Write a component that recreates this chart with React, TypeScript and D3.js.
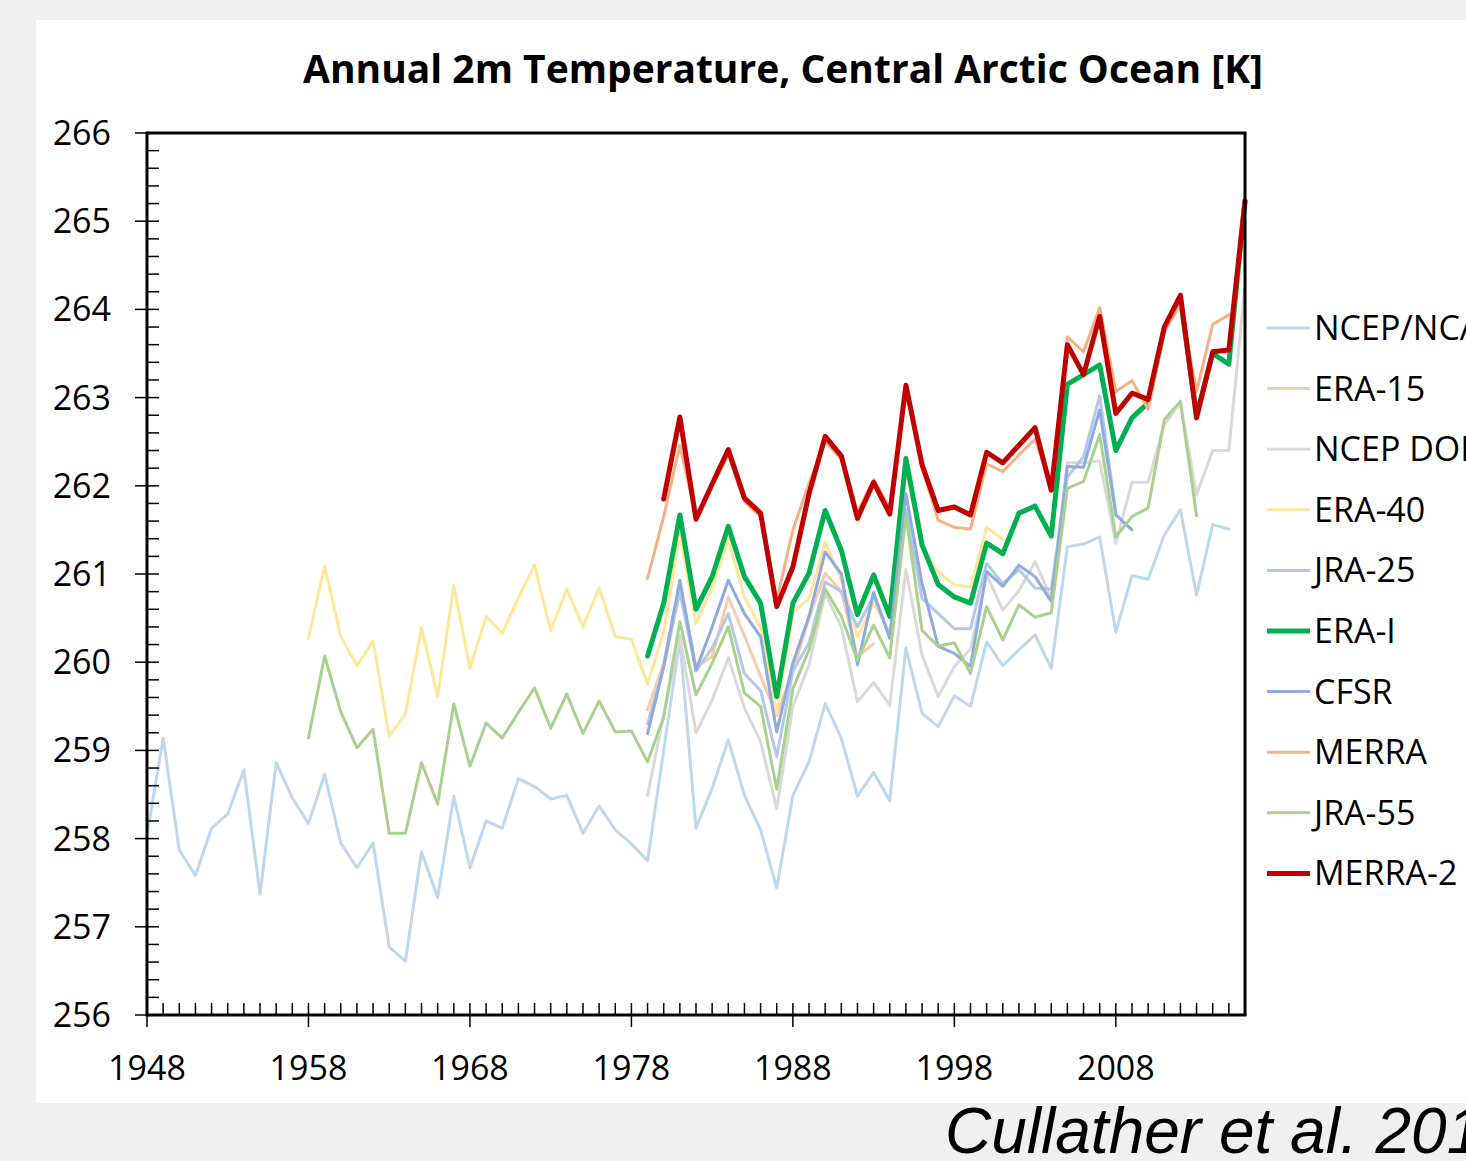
import React, { useEffect, useRef } from 'react';
import * as d3 from 'd3';

// annual mean 2m temperature [K]
const ncepNcarStart = 1948;
const ncepNcar = [
  258.04, 259.14, 257.87, 257.58, 258.12, 258.28, 258.78, 257.37, 258.86, 258.46,
  258.17, 258.73, 257.95, 257.67, 257.95, 256.77, 256.61, 257.85, 257.33, 258.48,
  257.67, 258.2, 258.12, 258.68, 258.59, 258.45, 258.49, 258.06, 258.37, 258.1,
  257.94, 257.75, 259.0, 260.25, 258.12, 258.57, 259.12, 258.49, 258.1, 257.44,
  258.49, 258.87, 259.53, 259.14, 258.48, 258.75, 258.43, 260.16, 259.42, 259.27,
  259.62, 259.5, 260.23, 259.96, 260.14, 260.31, 259.93, 261.31, 261.34, 261.42,
  260.34, 260.98, 260.94, 261.44, 261.73, 260.76, 261.56, 261.51,
];
const era15Start = 1979;
const era15 = [
  259.46, 259.99, 260.9, 259.95, 260.06, 260.74, 260.3, 259.84, 259.4, 259.9,
  260.5, 261.01, 260.8, 260.06, 260.21,
];
const ncepDoeStart = 1979;
const ncepDoe = [
  258.49, 259.4, 260.3, 259.2, 259.57, 260.05, 259.48, 259.1, 258.34, 259.5,
  259.97, 260.78, 260.4, 259.55, 259.77, 259.51, 261.05, 260.08, 259.61, 259.95,
  260.15, 260.99, 260.59, 260.81, 261.14, 260.72, 262.26, 262.26, 262.28, 261.35,
  262.04, 262.04, 262.69, 262.94, 261.9, 262.4, 262.4, 264.27,
];
const era40Start = 1958;
const era40 = [
  260.27, 261.09, 260.29, 259.96, 260.24, 259.16, 259.41, 260.39, 259.61, 260.87,
  259.93, 260.52, 260.33, 260.73, 261.1, 260.36, 260.83, 260.4, 260.84, 260.29,
  260.26, 259.75, 260.35, 261.46, 260.44, 260.84, 261.39, 260.74, 260.39, 259.42,
  260.56, 260.72, 261.36, 260.93, 260.29, 260.67, 260.33, 262.18, 261.31, 261.02,
  260.88, 260.85, 261.53, 261.39,
];
const jra25Start = 1979;
const jra25 = [
  259.3, 259.95, 260.8, 259.9, 260.16, 260.55, 259.87, 259.68, 258.93, 259.9,
  260.22, 260.91, 260.8, 260.4, 260.75, 260.3, 261.73, 260.72, 260.55, 260.38,
  260.38, 261.12, 260.89, 261.05, 260.84, 260.83, 262.1, 262.33, 263.02, 261.7,
];
const eraIStart = 1979;
const eraI = [
  260.07, 260.67, 261.67, 260.6, 260.97, 261.54, 260.97, 260.67, 259.61, 260.67,
  261.01, 261.72, 261.27, 260.54, 260.99, 260.52, 262.31, 261.33, 260.88, 260.74,
  260.67, 261.35, 261.23, 261.69, 261.77, 261.43, 263.15, 263.26, 263.37, 262.4,
  262.77, 262.94, 263.78, 264.12, 262.8, 263.5, 263.38, 265.23,
];
const cfsrStart = 1979;
const cfsr = [
  259.19, 259.95, 260.93, 259.91, 260.4, 260.93, 260.55, 260.29, 259.21, 259.99,
  260.52, 261.25, 261.0, 259.97, 260.79, 260.27, 261.91, 260.89, 260.18, 260.1,
  259.95, 261.03, 260.86, 261.1, 260.97, 260.69, 262.22, 262.21, 262.86, 261.67,
  261.5,
];
const merraStart = 1979;
const merra = [
  260.95, 261.65, 262.46, 261.65, 262.0, 262.35, 261.82, 261.65, 260.7, 261.5,
  262.03, 262.5, 262.3, 261.7, 262.07, 261.75, 263.1, 262.2, 261.61, 261.53,
  261.51, 262.25, 262.16, 262.35, 262.53, 261.98, 263.69, 263.52, 264.02, 263.07,
  263.19, 262.87, 263.75, 264.05, 263.07, 263.83, 263.94,
];
const jra55Start = 1958;
const jra55 = [
  259.14, 260.07, 259.44, 259.03, 259.24, 258.06, 258.06, 258.86, 258.39, 259.53,
  258.82, 259.31, 259.14, 259.43, 259.71, 259.25, 259.64, 259.19, 259.56, 259.21,
  259.22, 258.87, 259.38, 260.46, 259.63, 259.99, 260.4, 259.65, 259.5, 258.56,
  259.7, 260.14, 260.83, 260.52, 260.02, 260.42, 260.05, 261.67, 260.36, 260.18,
  260.22, 259.87, 260.63, 260.25, 260.65, 260.51, 260.56, 261.97, 262.05, 262.58,
  261.42, 261.65, 261.75, 262.75, 262.96, 261.66,
];
const merra2Start = 1980;
const merra2 = [
  261.85, 262.78, 261.62, 262.02, 262.41, 261.86, 261.69, 260.63, 261.08, 261.91,
  262.56, 262.34, 261.63, 262.04, 261.68, 263.14, 262.24, 261.72, 261.76, 261.67,
  262.38, 262.26, 262.46, 262.66, 261.95, 263.6, 263.26, 263.92, 262.82, 263.05,
  262.98, 263.8, 264.16, 262.77, 263.52, 263.54, 265.23,
];

const xTickLabels = ['1948', '1958', '1968', '1978', '1988', '1998', '2008'];
const yTickLabels = ['256', '257', '258', '259', '260', '261', '262', '263', '264', '265', '266'];

const series = [
  { name: 'NCEP/NCAR', start: ncepNcarStart, values: ncepNcar, color: '#bdd7ee', width: 3 },
  { name: 'ERA-15', start: era15Start, values: era15, color: '#f8cbad', width: 3 },
  { name: 'NCEP DOE', start: ncepDoeStart, values: ncepDoe, color: '#d9d9d9', width: 3 },
  { name: 'ERA-40', start: era40Start, values: era40, color: '#ffe699', width: 3 },
  { name: 'JRA-25', start: jra25Start, values: jra25, color: '#b4c7e7', width: 3 },
  { name: 'ERA-I', start: eraIStart, values: eraI, color: '#00b050', width: 5 },
  { name: 'CFSR', start: cfsrStart, values: cfsr, color: '#8faadc', width: 3 },
  { name: 'MERRA', start: merraStart, values: merra, color: '#f4b183', width: 3 },
  { name: 'JRA-55', start: jra55Start, values: jra55, color: '#a9d18e', width: 3 },
  { name: 'MERRA-2', start: merra2Start, values: merra2, color: '#c00000', width: 5 },
];

const W = 1466;
const H = 1161;

const App = () => {
  const ref = useRef(null);

  useEffect(() => {
    const svg = d3.select(ref.current);
    svg.selectAll('*').remove();

    const left = 147, right = 1245, top = 133, bottom = 1015;
    const x = d3.scaleLinear().domain([1948, 2016]).range([left, right]);
    const y = d3.scaleLinear().domain([256, 266]).range([bottom, top]);
    const font = "'Open Sans', 'Noto Sans', sans-serif";

    svg.append('rect').attr('width', W).attr('height', H).attr('fill', '#f0f0f0');
    svg.append('rect').attr('x', 36).attr('y', 20).attr('width', W - 36).attr('height', 1083).attr('fill', '#fff');

    svg.append('text')
      .attr('x', 783).attr('y', 83)
      .attr('text-anchor', 'middle')
      .attr('font-family', font).attr('font-weight', 700).attr('font-size', 40)
      .attr('textLength', 960).attr('lengthAdjust', 'spacingAndGlyphs')
      .text('Annual 2m Temperature, Central Arctic Ocean [K]');

    // series
    const line = d3.line().x(d => x(d[0])).y(d => y(d[1]));
    const g = svg.append('g');
    series.forEach(s => {
      const pts = s.values.map((v, i) => [s.start + i, v]);
      g.append('path')
        .attr('d', line(pts))
        .attr('fill', 'none')
        .attr('stroke', s.color)
        .attr('stroke-width', s.width)
        .attr('stroke-linejoin', 'round')
        .attr('stroke-linecap', 'round');
    });

    // frame
    const ax = svg.append('g').attr('stroke', '#000');
    ax.append('line').attr('x1', left).attr('x2', right + 1.5).attr('y1', top).attr('y2', top).attr('stroke-width', 3);
    ax.append('line').attr('x1', right).attr('x2', right).attr('y1', top).attr('y2', bottom).attr('stroke-width', 3);
    ax.append('line').attr('x1', left).attr('x2', left).attr('y1', top - 1.5).attr('y2', bottom + 1.5).attr('stroke-width', 3);
    ax.append('line').attr('x1', left).attr('x2', right + 1.5).attr('y1', bottom).attr('y2', bottom).attr('stroke-width', 3);

    // y ticks
    d3.range(0, 51).forEach(i => {
      const v = 256 + i * 0.2;
      const major = i % 5 === 0;
      ax.append('line')
        .attr('x1', major ? left - 12 : left).attr('x2', left + 12)
        .attr('y1', y(v)).attr('y2', y(v)).attr('stroke-width', 1.5);
    });
    yTickLabels.forEach(t => {
      svg.append('text')
        .attr('x', 111).attr('y', y(+t) + 12)
        .attr('text-anchor', 'end')
        .attr('font-family', font).attr('font-size', 34)
        .text(t);
    });

    // x ticks
    d3.range(1948, 2017).forEach(yr => {
      const major = (yr - 1948) % 10 === 0;
      ax.append('line')
        .attr('x1', x(yr)).attr('x2', x(yr))
        .attr('y1', bottom - 12).attr('y2', major ? bottom + 12 : bottom)
        .attr('stroke-width', 1.5);
    });
    xTickLabels.forEach(t => {
      svg.append('text')
        .attr('x', x(+t)).attr('y', 1080)
        .attr('text-anchor', 'middle')
        .attr('font-family', font).attr('font-size', 34)
        .text(t);
    });

    // legend
    const lg = svg.append('g');
    series.forEach((s, i) => {
      const ly = 328 + i * 60.6;
      lg.append('line')
        .attr('x1', 1267).attr('x2', 1310).attr('y1', ly).attr('y2', ly)
        .attr('stroke', s.color).attr('stroke-width', s.width);
      lg.append('text')
        .attr('x', 1314).attr('y', ly + 12)
        .attr('font-family', font).attr('font-size', 34)
        .text(s.name);
    });

    svg.append('text')
      .attr('x', 945).attr('y', 1153)
      .attr('font-family', "'Liberation Sans', Arial, sans-serif")
      .attr('font-style', 'italic').attr('font-size', 64)
      .text('Cullather et al. 2016');
  }, []);

  return (
    <svg ref={ref} width={W} height={H} style={{ position: 'absolute', left: 0, top: 0, display: 'block' }} />
  );
};

export default App;
